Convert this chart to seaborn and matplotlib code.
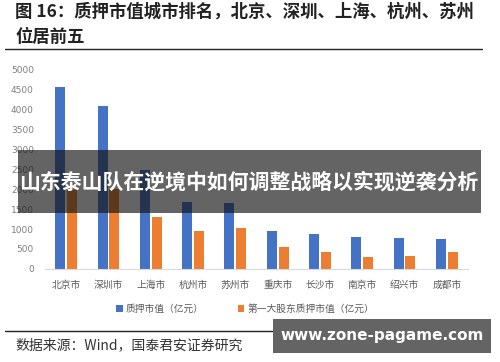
import numpy as np
import matplotlib
matplotlib.use('Agg')
import matplotlib.pyplot as plt
from matplotlib.patches import Rectangle
import seaborn as sns
import pandas as pd

# values (亿元)
cities = ['北京市', '深圳市', '上海市', '杭州市', '苏州市', '重庆市', '长沙市', '南京市', '绍兴市', '成都市']
pledge_value = [4550, 4075, 2475, 1675, 1650, 950, 875, 790, 770, 740]
top_holder_value = [1975, 2000, 1300, 960, 1025, 550, 425, 290, 320, 425]
series_names = ['质押市值（亿元）', '第一大股东质押市值（亿元）']
y_ticks = [0, 500, 1000, 1500, 2000, 2500, 3000, 3500, 4000, 4500, 5000]

df = pd.DataFrame({
    'city': cities * 2,
    'value': pledge_value + top_holder_value,
    'series': [series_names[0]] * len(cities) + [series_names[1]] * len(cities),
})

sns.set_style('white')
plt.rcParams['font.family'] = ['Noto Sans CJK SC', 'DejaVu Sans']

fig = plt.figure(figsize=(5, 3.62), dpi=100)
ax = fig.add_axes([0.09, 0.257, 0.846, 0.552])

sns.barplot(data=df, x='city', y='value', hue='series', ax=ax,
            palette=['#4472C4', '#ED7D31'], saturation=1, width=0.56, gap=0.16,
            edgecolor=None, linewidth=0)

ax.set_ylim(0, 5000)
ax.set_xlim(-0.5, len(cities) - 0.5)
ax.set_yticks(y_ticks)
ax.set_yticklabels([str(t) for t in y_ticks], fontsize=6.5, color='#7f7f7f',
                   family='DejaVu Sans')
ax.tick_params(axis='x', labelsize=7, colors='#595959', length=0, pad=8)
ax.tick_params(axis='y', length=0, pad=8)
ax.set_xlabel('')
ax.set_ylabel('')
for s in ['top', 'right', 'left']:
    ax.spines[s].set_visible(False)
ax.spines['bottom'].set_color('#d9d9d9')
ax.spines['bottom'].set_linewidth(0.8)

handles, labels = ax.get_legend_handles_labels()
ax.legend_.remove()
fig.legend(handles, labels, loc='center', bbox_to_anchor=(0.49, 0.146), ncol=2,
           frameon=False, fontsize=7, handlelength=0.7, handleheight=0.7,
           columnspacing=3.5, handletextpad=0.3, labelcolor='#595959')

# header / footer
fig.text(0.03, 0.967, '图 16：质押市值城市排名，北京、深圳、上海、杭州、苏州',
         fontsize=12.5, fontweight='semibold', va='center', ha='left', color='#222222')
fig.text(0.03, 0.898, '位居前五', fontsize=12.5, fontweight='semibold',
         va='center', ha='left', color='#222222')
fig.add_artist(plt.Line2D([0.01, 0.964], [0.865, 0.865], color='#222222', lw=1))
fig.add_artist(plt.Line2D([0.01, 0.964], [0.086, 0.086], color='#222222', lw=1))
fig.text(0.03, 0.047, '数据来源：Wind，国泰君安证券研究', fontsize=10,
         va='center', ha='left', color='#333333')

# overlay banner
fig.patches.append(Rectangle((0.036, 0.4116), 0.926, 0.174, transform=fig.transFigure,
                             facecolor='#141414', alpha=0.66, zorder=5, linewidth=0))
fig.text(0.498, 0.497, '山东泰山队在逆境中如何调整战略以实现逆袭分析', fontsize=15,
         fontweight='bold', color='white', ha='center', va='center', zorder=6)

# watermark box
fig.patches.append(Rectangle((0.546, 0.025), 0.436, 0.094, transform=fig.transFigure,
                             facecolor='#646464', zorder=5, linewidth=0))
fig.text(0.764, 0.072, 'www.zone-pagame.com', fontsize=11, fontweight='bold',
         color='white', ha='center', va='center', zorder=6, family='DejaVu Sans')

fig.savefig('out.png', dpi=100)
